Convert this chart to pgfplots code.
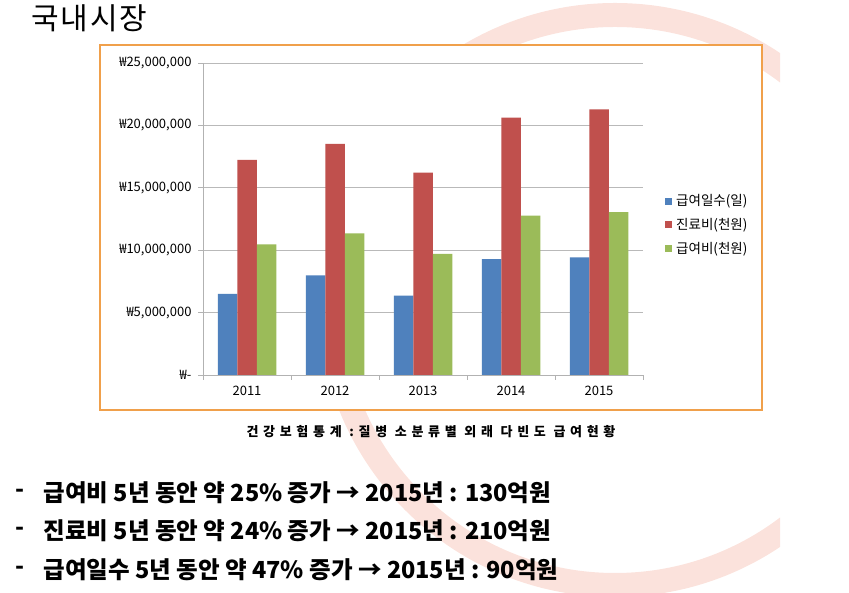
\documentclass[border=0pt]{standalone}
\usepackage{fontspec}
\setmainfont{Noto Sans CJK KR}
\usepackage{pgfplots}
\pgfplotsset{compat=1.18}

\definecolor{xlblue}{HTML}{4F81BD}
\definecolor{xlred}{HTML}{C0504D}
\definecolor{xlgreen}{HTML}{9BBB59}
\definecolor{frameorange}{HTML}{F0A04B}
\definecolor{ringpink}{HTML}{FBE2DC}

\begin{document}
\begin{tikzpicture}
\useasboundingbox (0,0) rectangle (849pt,593pt);
% faint decorative ring of the slide background
\begin{scope}
  \clip (0,0) rectangle (780pt,593pt);
  \draw[ringpink, line width=24pt] (615pt,293pt) circle (285pt);
\end{scope}
% chart frame
\draw[frameorange, line width=1.8pt, fill=white] (100pt,183pt) rectangle (762pt,548pt);
\node[anchor=west, font=\fontsize{30}{32}\selectfont\addfontfeature{LetterSpace=6}] at (28pt,575pt) {국내시장};

\begin{axis}[
    at={(203pt,218pt)}, anchor=south west,
    scale only axis, width=440pt, height=312pt,
    ybar=0pt, bar width=19.5pt,
    xmin=-0.5, xmax=4.5, ymin=0, ymax=25000000,
    xtick={0,1,2,3,4},
    xticklabels={2011,2012,2013,2014,2015},
    minor xtick={-0.5,0.5,1.5,2.5,3.5,4.5},
    major x tick style={draw=none},
    minor tick length=5pt, major tick length=5pt,
    tick align=outside,
    ytick={0,5000000,10000000,15000000,20000000,25000000},
    yticklabels={{₩-},{₩5,000,000},{₩10,000,000},{₩15,000,000},{₩20,000,000},{₩25,000,000}},
    scaled y ticks=false,
    ymajorgrids,
    major grid style={gray!55, line width=0.8pt},
    axis x line*=bottom, axis y line*=left,
    axis line style={gray!60, line width=0.8pt, -},
    tick style={gray!60, line width=0.8pt},
    yticklabel style={font=\fontsize{13}{15}\selectfont, xshift=-3pt},
    xticklabel style={font=\fontsize{13}{15}\selectfont, yshift=-3pt},
    legend image code/.code={\fill[#1] (0pt,-3.5pt) rectangle (7pt,3.5pt);},
    legend style={at={(1.05,0.585)}, anchor=north west, draw=none, fill=none,
        font=\fontsize{13.5}{15}\selectfont, row sep=7pt, inner sep=0pt,
        nodes={inner xsep=4pt}},
    legend cell align=left,
]
\addplot[fill=xlblue, draw=none] coordinates {(0,6490000) (1,7990000) (2,6360000) (3,9290000) (4,9430000)};
\addplot[fill=xlred, draw=none] coordinates {(0,17230000) (1,18510000) (2,16210000) (3,20620000) (4,21290000)};
\addplot[fill=xlgreen, draw=none] coordinates {(0,10470000) (1,11350000) (2,9700000) (3,12770000) (4,13060000)};
\legend{급여일수(일), 진료비(천원), 급여비(천원)}
\end{axis}

\node[font=\bfseries\fontsize{13}{15}\selectfont\addfontfeature{LetterSpace=36}] at (431pt,161pt)
    {건강보험통계 :질병 소분류별 외래 다빈도 급여현황};

\begin{scope}[every node/.style={anchor=west, font=\bfseries\fontsize{23.5}{26}\selectfont}]
\node at (12pt,100pt) {-};
\node at (40pt,100pt) {급여비 5년 동안 약 25\% 증가 → 2015년 : 130억원};
\node at (12pt,62pt) {-};
\node at (40pt,62pt) {진료비 5년 동안 약 24\% 증가 → 2015년 : 210억원};
\node at (12pt,23pt) {-};
\node at (40pt,23pt) {급여일수 5년 동안 약 47\% 증가 → 2015년 : 90억원};
\end{scope}
\end{tikzpicture}
\end{document}
